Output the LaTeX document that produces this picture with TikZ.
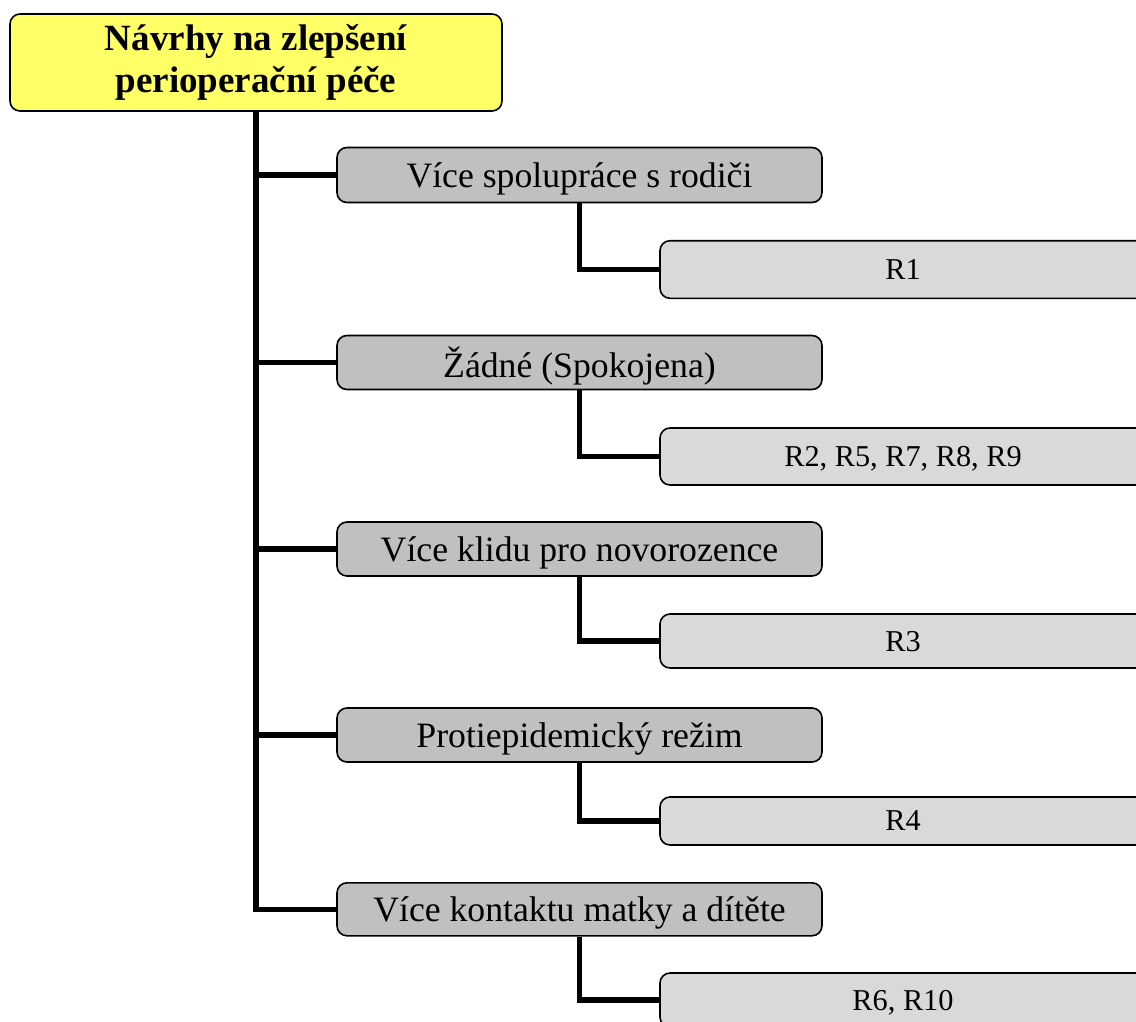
\documentclass[tikz,border=0pt]{standalone}
\usepackage{fontspec}
\setmainfont{Liberation Serif}
\usetikzlibrary{backgrounds}
\definecolor{rootfill}{RGB}{255,255,102}
\definecolor{catfill}{RGB}{192,192,192}
\definecolor{subfill}{RGB}{217,217,217}
\begin{document}
\begin{tikzpicture}[x=1pt,y=-1pt,
  box/.style={draw=black,line width=1.6pt,rounded corners=10pt,inner sep=0pt,align=center},
  rootbox/.style={box,fill=rootfill,minimum width=492pt,minimum height=97pt,
    font=\fontsize{37}{42.5}\selectfont\bfseries},
  catbox/.style={box,fill=catfill,minimum width=485pt,minimum height=54pt,
    text depth=0pt,font=\fontsize{35.7}{40}\selectfont},
  subbox/.style={box,fill=subfill,minimum width=486pt,
    text depth=0pt,font=\fontsize{30.3}{34}\selectfont},
  link/.style={line width=5.5pt}]
\useasboundingbox (0,0) rectangle (1136,1021);
\clip (0,0) rectangle (1136,1021);

% main heading and the five suggestion groups
\node[rootbox] (root) at (256,62.5) {Návrhy na zlepšení\\perioperační péče};
\node[catbox,minimum height=55pt] (c1) at (579.5,175)   {Více spolupráce s rodiči};
\node[catbox] (c2) at (579.5,362.5) {Žádné (Spokojena)};
\node[catbox] (c3) at (579.5,549)   {Více klidu pro novorozence};
\node[catbox] (c4) at (579.5,735)   {Protiepidemický režim};
\node[catbox,minimum height=53pt] (c5) at (579.5,909.3) {Více kontaktu matky a dítěte};

% respondents per group
\node[subbox,minimum height=57.6pt] (s1) at (903,269.5) {R1};
\node[subbox,minimum height=57pt]   (s2) at (903,456.5) {R2, R5, R7, R8, R9};
\node[subbox,minimum height=54pt]   (s3) at (903,641)   {R3};
\node[subbox,minimum height=48pt]   (s4) at (903,821)   {R4};
\node[subbox,minimum height=54pt]   (s5) at (903,1000)  {R6, R10};

% connectors, kept behind the boxes
\begin{scope}[on background layer]
  \draw[link] (root.south) |- (c5.west);
  \foreach \c in {c1,c2,c3,c4}
    \draw[link] (root.south |- \c.west) -- (\c.west);
  \foreach \c/\s in {c1/s1,c2/s2,c3/s3,c4/s4,c5/s5}
    \draw[link] (\c.south) |- (\s.west);
\end{scope}
\end{tikzpicture}
\end{document}
